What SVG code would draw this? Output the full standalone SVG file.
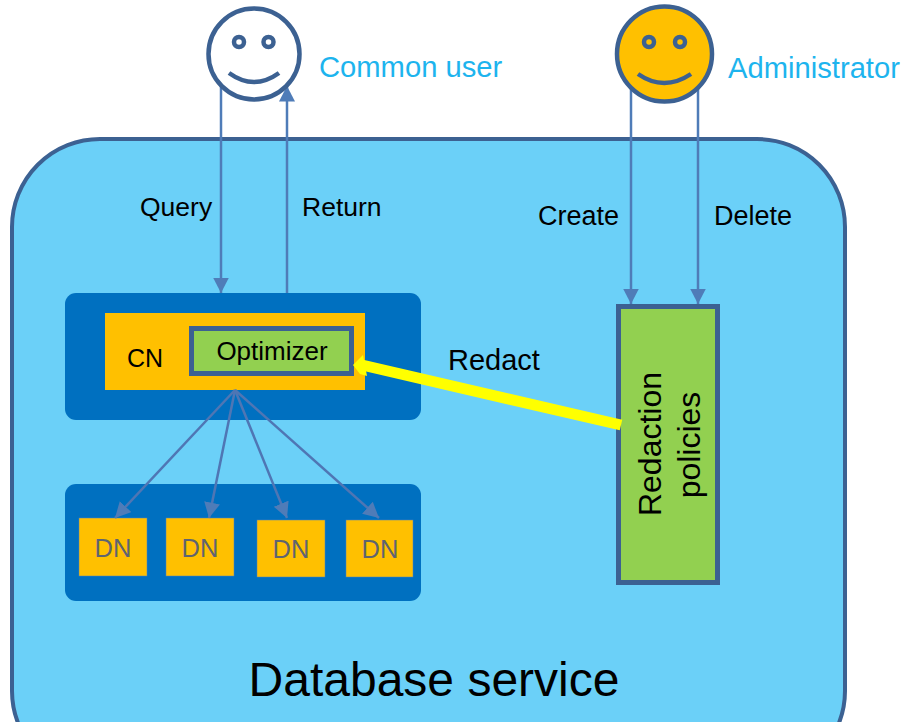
<svg xmlns="http://www.w3.org/2000/svg" width="902" height="722" viewBox="0 0 902 722">
<defs>
<style>
text{font-family:"Liberation Sans",Arial,sans-serif;fill:#000}
.lbl{font-size:26.500px}
.cap{font-size:27px}
.vert{font-size:32px;text-anchor:middle}
.role{font-size:29.200px;fill:#1db4ee}
.dn{font-size:25.500px;fill:#5f6470;text-anchor:middle}
.face{stroke:#3c6192;stroke-width:4.500}
.dnbox{fill:#ffc000;stroke:#4f81bd;stroke-width:.5}
.conn{stroke:#4f7cb8;stroke-width:2.500;fill:none}
.fan{stroke:#4f76b4;stroke-width:2.500;fill:none}
</style>
<marker id="arr" markerUnits="userSpaceOnUse" markerWidth="17" markerHeight="17" refX="15.500" refY="8" orient="auto"><path d="M0,0L15.500,8L0,16Z" fill="#4f7cb8"/></marker>
</defs>
<rect width="902" height="722" fill="#fff"/>
<g id="service"><rect x="12" y="139" width="833" height="640" rx="88" fill="#6bd0f8" stroke="#3c6192" stroke-width="4"/><text x="434" y="696" font-size="48" text-anchor="middle">Database service</text></g>
<g id="cn-panel"><rect x="65" y="293" width="356" height="127" rx="11" fill="#0070c0"/></g>
<g id="dn-panel"><rect x="65" y="484" width="356" height="117" rx="11" fill="#0070c0"/></g>
<g id="cn"><rect x="105" y="313" width="260" height="77" fill="#ffc000"/><text x="127" y="367" font-size="25">CN</text></g>
<g id="optimizer"><rect x="191.500" y="328.500" width="160" height="45" fill="#92d050" stroke="#3c6192" stroke-width="5"/><text x="272" y="360" font-size="26" text-anchor="middle">Optimizer</text></g>
<g id="dn1"><rect class="dnbox" x="79" y="518" width="68" height="58"/><text class="dn" x="113" y="557">DN</text></g>
<g id="dn2"><rect class="dnbox" x="166" y="518" width="68" height="58"/><text class="dn" x="200" y="557">DN</text></g>
<g id="dn3"><rect class="dnbox" x="257" y="520" width="68" height="57"/><text class="dn" x="291" y="558">DN</text></g>
<g id="dn4"><rect class="dnbox" x="346" y="520" width="67" height="57"/><text class="dn" x="380" y="558">DN</text></g>
<g id="policies"><rect x="618.500" y="306.500" width="99" height="276" fill="#92d050" stroke="#3c6192" stroke-width="5"/><text transform="translate(661,444) rotate(-90)" class="vert">Redaction</text><text transform="translate(700,445) rotate(-90)" class="vert">policies</text></g>
<g id="connectors">
<path class="conn" marker-end="url(#arr)" d="M221,86V293"/>
<path class="conn" marker-end="url(#arr)" d="M287,293V86"/>
<path class="conn" marker-end="url(#arr)" d="M631,88V304"/>
<path class="conn" marker-end="url(#arr)" d="M698,88V304"/>
<path class="fan" marker-end="url(#arr)" d="M235,390L115,518"/>
<path class="fan" marker-end="url(#arr)" d="M235,390L209,518"/>
<path class="fan" marker-end="url(#arr)" d="M235,390L287,518"/>
<path class="fan" marker-end="url(#arr)" d="M235,390L379,518"/>
<path d="M621,425L362,365" stroke="#ffff00" stroke-width="11" fill="none"/>
<path d="M353,365L363,355L367,376L360,374Z" fill="#ffff00"/>
</g>
<g id="common-user"><circle class="face" cx="254" cy="54" r="45.500" fill="#fff"/><circle class="face" cx="239" cy="42" r="5" fill="none"/><circle class="face" cx="268.500" cy="42" r="5" fill="none"/><path class="face" fill="none" d="M229,73Q254,91 279,73"/><text x="319" y="77" class="role">Common user</text></g>
<g id="administrator"><circle class="face" cx="664.500" cy="54" r="47.500" fill="#ffc000"/><circle class="face" cx="649" cy="42" r="5" fill="none"/><circle class="face" cx="680" cy="42" r="5" fill="none"/><path class="face" fill="none" d="M638,74Q664,92 691,74"/><text x="728" y="78" class="role">Administrator</text></g>
<g id="labels"><text x="140" y="216" class="lbl">Query</text><text x="302" y="216" class="lbl">Return</text><text x="538" y="225" class="cap">Create</text><text x="714" y="225" class="cap">Delete</text><text x="448" y="370" font-size="29">Redact</text></g>
</svg>
